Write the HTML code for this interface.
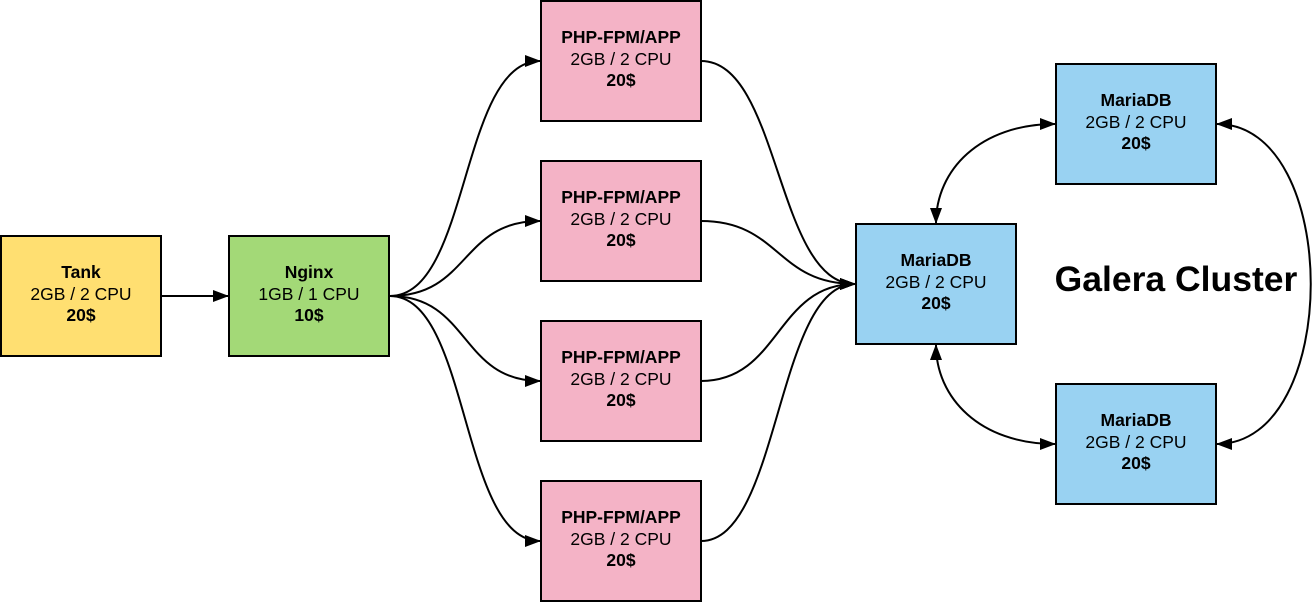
<!DOCTYPE html>
<html><head><meta charset="utf-8"><style>
html,body{margin:0;padding:0;background:#fff;}
svg{display:block;font-family:"Liberation Sans",Arial,sans-serif;}
</style></head><body>
<svg width="1313" height="602" viewBox="0 0 1313 602" xmlns="http://www.w3.org/2000/svg">
<defs>
<marker id="a" viewBox="0 0 16 12" refX="15" refY="6" markerWidth="16" markerHeight="12" markerUnits="userSpaceOnUse" orient="auto-start-reverse">
<path d="M0,0 L16,6 L0,12 Z" fill="#000"/></marker>
</defs>
<g fill="none" stroke="#000" stroke-width="2">
<path d="M161,296 L228,296" marker-end="url(#a)"/>
<path d="M390,296 C470,296 460,61 540,61" marker-end="url(#a)"/>
<path d="M390,296 C470,296 460,221 540,221" marker-end="url(#a)"/>
<path d="M390,296 C470,296 460,381 540,381" marker-end="url(#a)"/>
<path d="M390,296 C470,296 460,541 540,541" marker-end="url(#a)"/>
<path d="M701,61 C780,61 776,284 855,284" marker-end="url(#a)"/>
<path d="M701,221 C780,221 776,284 855,284" marker-end="url(#a)"/>
<path d="M701,381 C780,381 776,284 855,284" marker-end="url(#a)"/>
<path d="M701,541 C780,541 776,284 855,284" marker-end="url(#a)"/>
<path d="M1055,124 C980,124 936,170 936,223" marker-start="url(#a)" marker-end="url(#a)"/>
<path d="M936,345 C936,398 980,444 1055,444" marker-start="url(#a)" marker-end="url(#a)"/>
<path d="M1217,124 C1342,124 1342,444 1217,444" marker-start="url(#a)" marker-end="url(#a)"/>
</g>
<g stroke="#000" stroke-width="2">
<rect x="1" y="236" width="160" height="120" fill="#FFDF71"/>
<rect x="229" y="236" width="160" height="120" fill="#A3D977"/>
<rect x="541" y="1" width="160" height="120" fill="#F4B3C6"/>
<rect x="541" y="161" width="160" height="120" fill="#F4B3C6"/>
<rect x="541" y="321" width="160" height="120" fill="#F4B3C6"/>
<rect x="541" y="481" width="160" height="120" fill="#F4B3C6"/>
<rect x="856" y="224" width="160" height="120" fill="#99D2F2"/>
<rect x="1056" y="64" width="160" height="120" fill="#99D2F2"/>
<rect x="1056" y="384" width="160" height="120" fill="#99D2F2"/>
</g>
<g font-size="17.5" text-anchor="middle" fill="#000">
<text x="81" y="278" font-weight="bold">Tank</text><text x="81" y="300">2GB / 2 CPU</text><text x="81" y="321" font-weight="bold">20$</text>
<text x="309" y="278" font-weight="bold">Nginx</text><text x="309" y="300">1GB / 1 CPU</text><text x="309" y="321" font-weight="bold">10$</text>
<text x="621" y="43" font-weight="bold">PHP-FPM/APP</text><text x="621" y="65">2GB / 2 CPU</text><text x="621" y="86" font-weight="bold">20$</text>
<text x="621" y="203" font-weight="bold">PHP-FPM/APP</text><text x="621" y="225">2GB / 2 CPU</text><text x="621" y="246" font-weight="bold">20$</text>
<text x="621" y="363" font-weight="bold">PHP-FPM/APP</text><text x="621" y="385">2GB / 2 CPU</text><text x="621" y="406" font-weight="bold">20$</text>
<text x="621" y="523" font-weight="bold">PHP-FPM/APP</text><text x="621" y="545">2GB / 2 CPU</text><text x="621" y="566" font-weight="bold">20$</text>
<text x="936" y="266" font-weight="bold">MariaDB</text><text x="936" y="288">2GB / 2 CPU</text><text x="936" y="309" font-weight="bold">20$</text>
<text x="1136" y="106" font-weight="bold">MariaDB</text><text x="1136" y="128">2GB / 2 CPU</text><text x="1136" y="149" font-weight="bold">20$</text>
<text x="1136" y="426" font-weight="bold">MariaDB</text><text x="1136" y="448">2GB / 2 CPU</text><text x="1136" y="469" font-weight="bold">20$</text>
</g>
<text x="1176" y="291" font-size="35.5" font-weight="bold" text-anchor="middle">Galera Cluster</text>
</svg>
</body></html>
